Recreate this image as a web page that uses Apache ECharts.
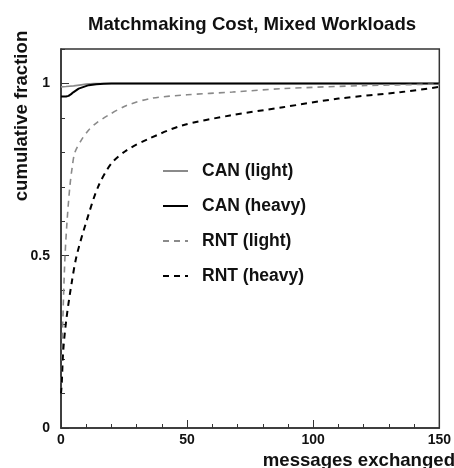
<!DOCTYPE html>
<html>
<head>
<meta charset="utf-8">
<script src="https://cdn.jsdelivr.net/npm/echarts@6/dist/echarts.min.js"></script>
<style>
html,body{margin:0;padding:0;background:#fff;}
#chart{width:454px;height:468px;}
</style>
</head>
<body>
<div id="chart"></div>
<script>
var chartTitle = 'Matchmaking Cost, Mixed Workloads';
var xTitle = 'messages exchanged';
var yTitle = 'cumulative fraction';
var seriesNames = ['CAN (light)', 'CAN (heavy)', 'RNT (light)', 'RNT (heavy)'];

var canLightX = [0, 2, 5, 8, 10, 13, 150];
var canLightY = [0.990, 0.991, 0.993, 0.996, 0.998, 1.0, 1.0];

var canHeavyX = [0, 2, 3, 4, 5, 7, 9, 11, 14, 17, 20, 150];
var canHeavyY = [0.962, 0.962, 0.964, 0.969, 0.975, 0.985, 0.990, 0.995, 0.998, 0.999, 1.0, 1.0];

var rntLightX = [0, 0.5, 1, 1.6, 2.4, 3.5, 4.5, 5.5, 8, 11, 14, 18.6, 26, 36, 50, 68, 88, 121, 150];
var rntLightY = [0.10, 0.25, 0.38, 0.50, 0.60, 0.70, 0.76, 0.80, 0.835, 0.865, 0.885, 0.907, 0.936, 0.957, 0.967, 0.975, 0.985, 0.994, 0.998];

var rntHeavyX = [0, 0.3, 0.9, 2.2, 4.2, 6.2, 10.1, 14.7, 20, 26, 35, 48, 67, 88, 110, 135, 150];
var rntHeavyY = [0.10, 0.13, 0.226, 0.32, 0.42, 0.50, 0.60, 0.70, 0.768, 0.806, 0.84, 0.878, 0.907, 0.931, 0.956, 0.975, 0.99];

var yTickLabels = {0: '0', 0.5: '0.5', 1: '1'};

function pairs(xs, ys) {
  return xs.map(function (x, i) { return [x, ys[i]]; });
}

var chart = echarts.init(document.getElementById('chart'), null, {renderer: 'canvas'});
var FONT = '"Liberation Sans", Arial, Helvetica, sans-serif';
var axisLabelStyle = {fontFamily: FONT, fontWeight: 'bold', fontSize: 14, color: '#111'};

var option = {
  animation: false,
  backgroundColor: '#fff',
  grid: {left: 61, right: 13, top: 49, bottom: 40, show: true, borderColor: '#333', borderWidth: 1.5, backgroundColor: 'transparent'},
  graphic: [
    {type: 'text', x: 252, y: 25, style: {text: chartTitle, font: 'bold 18.6px ' + FONT, fill: '#111', textAlign: 'center', textVerticalAlign: 'middle'}},
    {type: 'text', x: 455, y: 461, style: {text: xTitle, font: 'bold 18.6px ' + FONT, fill: '#111', textAlign: 'right', textVerticalAlign: 'middle'}},
    {type: 'text', x: 22, y: 116, rotation: Math.PI / 2, style: {text: yTitle, font: 'bold 18.6px ' + FONT, fill: '#111', textAlign: 'center', textVerticalAlign: 'middle'}}
  ],
  legend: {
    orient: 'vertical', left: 162, top: 162, padding: 0,
    itemWidth: 25, itemHeight: 14, itemGap: 17,
    itemStyle: {opacity: 0, borderWidth: 0},
    textStyle: {fontFamily: FONT, fontWeight: 'bold', fontSize: 17.5, color: '#111', padding: [0, 0, 0, 9]},
    data: seriesNames
  },
  xAxis: [{
    type: 'value', min: 0, max: 150, interval: 50,
    axisLine: {show: true, lineStyle: {color: '#333', width: 1.5}},
    axisTick: {show: true, inside: true, length: 8, lineStyle: {color: '#333', width: 1}},
    minorTick: {show: true, splitNumber: 5, length: 4, lineStyle: {color: '#333', width: 1}},
    splitLine: {show: false},
    axisLabel: Object.assign({margin: 5}, axisLabelStyle)
  }],
  yAxis: [{
    type: 'value', min: 0, max: 1.1, interval: 0.1,
    axisLine: {show: true, lineStyle: {color: '#333', width: 1.5}},
    axisTick: {show: true, inside: true, length: 4, lineStyle: {color: '#333', width: 1}},
    splitLine: {show: false},
    axisLabel: {show: false}
  }, {
    type: 'value', min: 0, max: 1.1, interval: 0.5, position: 'left',
    axisLine: {show: false},
    axisTick: {show: true, inside: true, length: 8, lineStyle: {color: '#333', width: 1}},
    splitLine: {show: false},
    axisLabel: Object.assign({margin: 11, showMaxLabel: false, formatter: function (v) {
      var k = Math.round(v * 10) / 10;
      return yTickLabels[k] !== undefined ? yTickLabels[k] : '';
    }}, axisLabelStyle)
  }],
  series: [
    {name: seriesNames[0], type: 'line', showSymbol: false, symbol: 'none', smooth: false, xAxisIndex: 0, yAxisIndex: 0,
     data: pairs(canLightX, canLightY), lineStyle: {color: '#8a8a8a', width: 1.6, type: 'solid'}, itemStyle: {color: '#8a8a8a'}},
    {name: seriesNames[1], type: 'line', showSymbol: false, symbol: 'none', smooth: false, xAxisIndex: 0, yAxisIndex: 0,
     data: pairs(canHeavyX, canHeavyY), lineStyle: {color: '#000', width: 2, type: 'solid'}, itemStyle: {color: '#000'}},
    {name: seriesNames[2], type: 'line', showSymbol: false, symbol: 'none', smooth: 0.3, xAxisIndex: 0, yAxisIndex: 0,
     data: pairs(rntLightX, rntLightY), lineStyle: {color: '#8a8a8a', width: 1.6, type: [6, 5]}, itemStyle: {color: '#8a8a8a'}},
    {name: seriesNames[3], type: 'line', showSymbol: false, symbol: 'none', smooth: 0.3, xAxisIndex: 0, yAxisIndex: 0,
     data: pairs(rntHeavyX, rntHeavyY), lineStyle: {color: '#000', width: 2, type: [6, 5]}, itemStyle: {color: '#000'}}
  ]
};
chart.setOption(option);
</script>
</body>
</html>
